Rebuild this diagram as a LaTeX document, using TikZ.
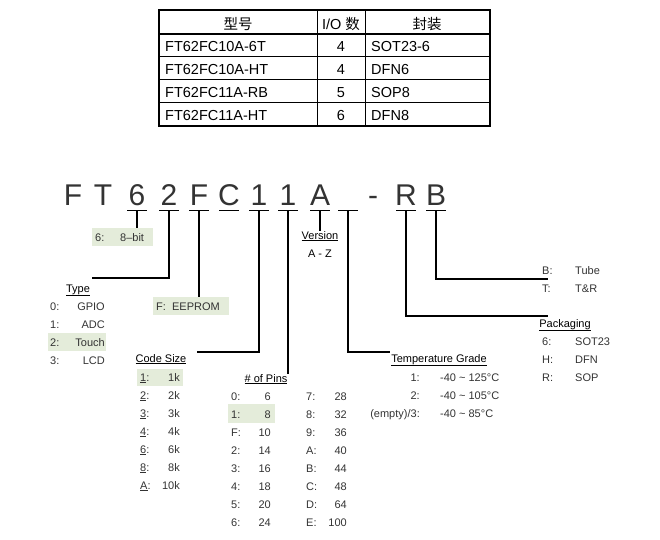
\documentclass[tikz,border=0pt]{standalone}
\usepackage{fontspec}
\setmainfont{Liberation Sans}
\newfontfamily\cjk{Noto Sans CJK SC}
\usetikzlibrary{positioning}
\definecolor{hilite}{HTML}{E4ECDA}
\definecolor{txt}{HTML}{333333}
\tikzset{
  big/.style={inner sep=0pt,anchor=base,text=txt,font=\fontsize{30}{30}\selectfont},
  small/.style={inner sep=0pt,anchor=base west,text=txt,font=\fontsize{11}{12}\selectfont},
  valr/.style={small,anchor=base east},
  title/.style={small,anchor=base,text=black},
  cell/.style={inner sep=0pt,anchor=base west,font=\fontsize{14.5}{15}\selectfont},
  link/.style={line width=1.2pt},
  hbox/.style={fill=hilite,draw=none}
}
\newcommand{\ul}[1]{\underline{#1}}
\begin{document}
\begin{tikzpicture}[x=1pt,y=-1pt]
\useasboundingbox (0,0) rectangle (660,539);
% table
\draw[line width=1.5pt] (159,10) rectangle (490,126);
\draw[line width=1.2pt] (159,34) -- (490,34);
\foreach \y in {56,79,102} \draw[line width=0.6pt] (159,\y) -- (490,\y);
\draw[line width=0.6pt] (317,10) -- (317,126) (365,10) -- (365,126);
\node[cell,anchor=base] (h1) at (238,29) {\cjk 型号};
\node[cell,anchor=base] (h2) at (341,29) {I/O \cjk 数};
\node[cell,anchor=base] (h3) at (427,29) {\cjk 封装};
\foreach \pn/\io/\pk [count=\i] in {FT62FC10A-6T/4/SOT23-6,FT62FC10A-HT/4/DFN6,FT62FC11A-RB/5/SOP8,FT62FC11A-HT/6/DFN8}{
  \node[cell] (pn\i) at (165,28+23*\i) {\pn};
  \node[cell,anchor=base] (io\i) at (341,28+23*\i) {\io};
  \node[cell] (pk\i) at (371,28+23*\i) {\pk};
}
% part number
\foreach \ch/\x [count=\i] in {F/73,T/103,6/137,2/169,F/199,C/229,1/259,1/288,A/320,{\phantom{A}}/348,-/373,R/406,B/436}
  \node[big] (d\i) at (\x,205) {\ch};
\foreach \i in {3,...,10,12,13}
  \draw[line width=1.2pt] ([xshift=-10pt,yshift=-5pt]d\i.south) -- ([xshift=10pt,yshift=-5pt]d\i.south);
% highlight boxes
\node[hbox,minimum width=61pt,minimum height=18pt] (bit) at (122.5,237) {};
\node[small] at (95,241) {6:};
\node[small] at (120,241) {8--bit};
\node[hbox,minimum width=76pt,minimum height=18pt] (eep) at (191,306) {};
\node[small] at (156,310) {F:\ \ EEPROM};
\fill[hilite] (48,333) rectangle (106,351);
\fill[hilite] (137,369) rectangle (183,386);
\fill[hilite] (228,404) rectangle (275,423);
% endpoints
\coordinate (typeend) at (92,278);
\coordinate (codeend) at (197,352);
\coordinate (tempend) at (390,352);
\coordinate (packend) at (548,316);
\coordinate (tubeend) at (548,279);
% titles
\node[title] (ver) at (320,239) {\ul{Version}};
\node[title] (az) at (320,257) {A - Z};
\node[title] (type) at (78,292) {\ul{Type}};
\node[title] (code) at (161,362) {\ul{Code Size}};
\node[title] (pins) at (266,382) {\ul{\# of Pins}};
\node[title] (temp) at (439,362) {\ul{Temperature Grade}};
\node[title] (pack) at (565,327) {\ul{Packaging}};
% connectors
\draw[link] ([yshift=-5pt]d3.south) -- (d3.south |- bit.north);
\draw[link] ([yshift=-5pt]d4.south) |- (typeend);
\draw[link] ([yshift=-5pt]d5.south) -- (d5.south |- eep.north);
\draw[link] ([yshift=-5pt]d7.south) |- (codeend);
\draw[link] ([yshift=-5pt]d8.south) -- (d8.south |- pins.north);
\draw[link] ([yshift=-5pt]d9.south) -- (ver.north);
\draw[link] ([yshift=-5pt]d10.south) |- (tempend);
\draw[link] ([yshift=-5pt]d12.south) |- (packend);
\draw[link] ([yshift=-5pt]d13.south) |- (tubeend);
% lists
\foreach \k/\v [count=\i] in {0:/GPIO,1:/ADC,2:/Touch,3:/LCD}{
  \node[small] at (50,292+18*\i) {\k};
  \node[valr] at (105,292+18*\i) {\v};
}
\foreach \k/\v [count=\i] in {1/1k,2/2k,3/3k,4/4k,6/6k,8/8k,A/10k}{
  \node[small] at (140,363+18*\i) {\ul{\k}:};
  \node[valr] at (180,363+18*\i) {\v};
}
\foreach \k/\v/\kk/\vv [count=\i] in {0/6/7/28,1/8/8/32,F/10/9/36,2/14/A/40,3/16/B/44,4/18/C/48,5/20/D/64,6/24/E/100}{
  \node[small] at (231,382+18*\i) {\k:};
  \node[valr] at (271,382+18*\i) {\v};
  \node[small] at (306,382+18*\i) {\kk:};
  \node[valr] at (347,382+18*\i) {\vv};
}
\foreach \k/\v [count=\i] in {1:/125,2:/105,{(empty)/3:}/85}{
  \node[valr] at (420,363+18*\i) {\k};
  \node[small] at (440,363+18*\i) {-40 \textasciitilde\ \v°C};
}
\node[small] at (542,274) {B:};
\node[small] at (575,274) {Tube};
\node[small] at (542,292) {T:};
\node[small] at (575,292) {T\&R};
\foreach \k/\v [count=\i] in {6/SOT23,H/DFN,R/SOP}{
  \node[small] at (542,327+18*\i) {\k:};
  \node[small] at (575,327+18*\i) {\v};
}
\end{tikzpicture}
\end{document}
